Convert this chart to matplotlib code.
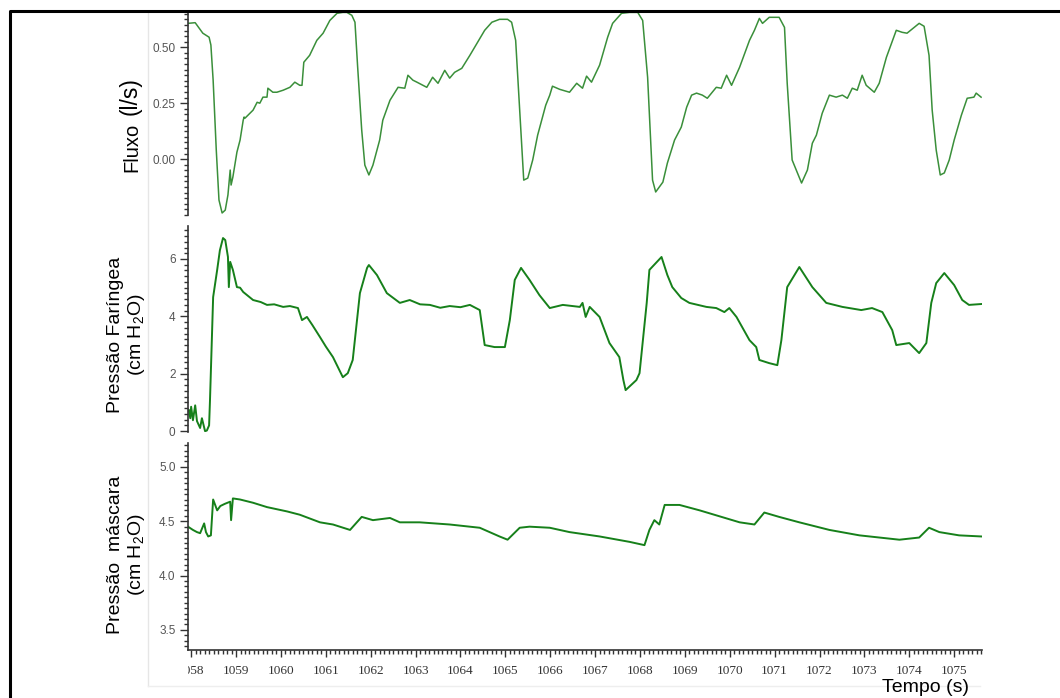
import matplotlib
matplotlib.use('Agg')
import matplotlib.pyplot as plt
from matplotlib.ticker import MultipleLocator, FixedLocator, FormatStrFormatter
from matplotlib.lines import Line2D
from matplotlib.transforms import Bbox, TransformedBbox

# flow trace (l/s)
flow_t = [1057.93, 1058.09, 1058.26, 1058.40, 1058.44, 1058.49, 1058.56, 1058.62, 1058.69, 1058.76,
          1058.82, 1058.87, 1058.89, 1058.93, 1059.02, 1059.09, 1059.16, 1059.18, 1059.20, 1059.38,
          1059.47, 1059.53, 1059.60, 1059.69, 1059.71, 1059.82, 1059.91, 1060.05, 1060.20, 1060.31,
          1060.42, 1060.47, 1060.51, 1060.64, 1060.80, 1060.94, 1061.09, 1061.25, 1061.38, 1061.47,
          1061.58, 1061.65, 1061.71, 1061.80, 1061.87, 1061.96, 1062.05, 1062.14, 1062.20, 1062.27,
          1062.43, 1062.61, 1062.76, 1062.83, 1062.94, 1063.03, 1063.25, 1063.38, 1063.50, 1063.65,
          1063.76, 1063.87, 1064.03, 1064.21, 1064.38, 1064.54, 1064.70, 1064.87, 1065.05, 1065.14,
          1065.23, 1065.32, 1065.41, 1065.50, 1065.61, 1065.72, 1065.81, 1065.90, 1065.99, 1066.05,
          1066.21, 1066.43, 1066.59, 1066.72, 1066.81, 1066.92, 1067.10, 1067.28, 1067.39, 1067.59,
          1067.77, 1067.95, 1068.06, 1068.17, 1068.28, 1068.35, 1068.51, 1068.61, 1068.77, 1068.92,
          1069.04, 1069.15, 1069.26, 1069.39, 1069.50, 1069.70, 1069.81, 1069.93, 1070.04, 1070.22,
          1070.44, 1070.55, 1070.66, 1070.73, 1070.88, 1071.10, 1071.22, 1071.28, 1071.39, 1071.60,
          1071.73, 1071.84, 1071.93, 1072.06, 1072.22, 1072.37, 1072.51, 1072.62, 1072.73, 1072.84,
          1072.95, 1073.04, 1073.22, 1073.33, 1073.49, 1073.71, 1073.84, 1073.95, 1074.22, 1074.33,
          1074.44, 1074.51, 1074.60, 1074.69, 1074.78, 1074.89, 1075.00, 1075.16, 1075.29, 1075.44,
          1075.49, 1075.60]
flow_v = [0.607, 0.61, 0.563, 0.545, 0.51, 0.353, 0.04, -0.183, -0.241, -0.228,
          -0.16, -0.049, -0.116, -0.080, 0.031, 0.085, 0.174, 0.188, 0.183, 0.219,
          0.254, 0.25, 0.277, 0.277, 0.317, 0.299, 0.299, 0.308, 0.321, 0.344,
          0.33, 0.33, 0.433, 0.464, 0.531, 0.563, 0.62, 0.652, 0.656, 0.656,
          0.643, 0.612, 0.411, 0.13, -0.027, -0.071, -0.027, 0.04, 0.085, 0.174,
          0.263, 0.321, 0.317, 0.375, 0.353, 0.344, 0.321, 0.366, 0.339, 0.397,
          0.362, 0.388, 0.406, 0.464, 0.522, 0.576, 0.612, 0.625, 0.625, 0.612,
          0.531, 0.219, -0.094, -0.085, -0.004, 0.107, 0.174, 0.241, 0.286, 0.326,
          0.312, 0.299, 0.339, 0.317, 0.371, 0.344, 0.42, 0.545, 0.607, 0.652,
          0.656, 0.656, 0.62, 0.366, -0.094, -0.147, -0.103, -0.018, 0.085, 0.143,
          0.232, 0.286, 0.295, 0.286, 0.272, 0.321, 0.317, 0.375, 0.33, 0.411,
          0.531, 0.576, 0.629, 0.607, 0.634, 0.634, 0.589, 0.339, -0.004, -0.107,
          -0.049, 0.071, 0.107, 0.205, 0.286, 0.277, 0.286, 0.272, 0.317, 0.308,
          0.375, 0.33, 0.299, 0.339, 0.455, 0.576, 0.567, 0.563, 0.607, 0.594,
          0.464, 0.219, 0.04, -0.071, -0.062, -0.004, 0.085, 0.196, 0.272, 0.277,
          0.295, 0.277]

# pharyngeal pressure (cm H2O)
phar_t = [1057.95, 1057.98, 1058.00, 1058.04, 1058.09, 1058.13, 1058.20, 1058.24, 1058.31, 1058.35,
          1058.40, 1058.42, 1058.49, 1058.58, 1058.64, 1058.71, 1058.76, 1058.82, 1058.84, 1058.87,
          1058.93, 1059.02, 1059.09, 1059.16, 1059.38, 1059.55, 1059.69, 1059.85, 1060.05, 1060.20,
          1060.38, 1060.47, 1060.58, 1060.70, 1060.87, 1061.00, 1061.16, 1061.38, 1061.49, 1061.60,
          1061.76, 1061.92, 1061.96, 1062.14, 1062.36, 1062.65, 1062.87, 1063.10, 1063.32, 1063.55,
          1063.76, 1064.00, 1064.21, 1064.43, 1064.54, 1064.76, 1064.99, 1065.10, 1065.21, 1065.35,
          1065.54, 1065.76, 1065.99, 1066.28, 1066.66, 1066.72, 1066.79, 1066.88, 1067.10, 1067.32,
          1067.54, 1067.63, 1067.68, 1067.92, 1067.99, 1068.15, 1068.21, 1068.48, 1068.61, 1068.72,
          1068.92, 1069.10, 1069.48, 1069.70, 1069.88, 1069.99, 1070.15, 1070.44, 1070.59, 1070.66,
          1070.88, 1071.06, 1071.15, 1071.28, 1071.55, 1071.84, 1072.15, 1072.51, 1072.93, 1073.17,
          1073.40, 1073.62, 1073.71, 1074.00, 1074.22, 1074.38, 1074.49, 1074.60, 1074.78, 1075.00,
          1075.18, 1075.33, 1075.60]
phar_v = [0.73, 0.45, 0.85, 0.38, 0.9, 0.35, 0.11, 0.45, 0.0, 0.02,
          0.2, 1.08, 4.67, 5.62, 6.3, 6.73, 6.66, 6.07, 5.02, 5.9,
          5.62, 5.02, 5.0, 4.85, 4.57, 4.50, 4.40, 4.42, 4.33, 4.36,
          4.29, 3.87, 3.98, 3.70, 3.28, 2.95, 2.58, 1.88, 2.02, 2.48,
          4.81, 5.69, 5.79, 5.44, 4.81, 4.47, 4.57, 4.42, 4.40, 4.30,
          4.36, 4.32, 4.40, 4.22, 3.0, 2.93, 2.93, 3.87, 5.27, 5.69,
          5.27, 4.74, 4.29, 4.40, 4.33, 4.47, 3.98, 4.33, 3.98, 3.07,
          2.58, 1.78, 1.43, 1.78, 2.02, 4.47, 5.62, 6.07, 5.44, 5.02,
          4.64, 4.47, 4.33, 4.29, 4.15, 4.29, 3.98, 3.17, 2.93, 2.48,
          2.37, 2.30, 3.17, 5.02, 5.72, 5.02, 4.47, 4.33, 4.22, 4.29,
          4.15, 3.52, 3.0, 3.07, 2.72, 3.07, 4.47, 5.16, 5.51, 5.09,
          4.57, 4.40, 4.43]

# mask pressure (cm H2O)
mask_t = [1057.93, 1058.04, 1058.13, 1058.20, 1058.29, 1058.33, 1058.38, 1058.44, 1058.49, 1058.58,
          1058.65, 1058.75, 1058.87, 1058.89, 1058.93, 1059.09, 1059.38, 1059.69, 1060.14, 1060.42,
          1060.87, 1061.16, 1061.54, 1061.80, 1062.05, 1062.43, 1062.65, 1063.09, 1063.76, 1064.43,
          1064.87, 1065.05, 1065.32, 1065.54, 1065.99, 1066.43, 1067.10, 1067.77, 1068.10, 1068.21,
          1068.32, 1068.43, 1068.55, 1068.88, 1069.33, 1070.22, 1070.55, 1070.77, 1071.10, 1071.55,
          1072.22, 1072.89, 1073.78, 1074.22, 1074.44, 1074.67, 1075.11, 1075.60]
mask_v = [4.45, 4.42, 4.40, 4.39, 4.48, 4.40, 4.36, 4.37, 4.70, 4.60,
          4.64, 4.66, 4.68, 4.51, 4.71, 4.70, 4.67, 4.63, 4.59, 4.56,
          4.49, 4.47, 4.42, 4.54, 4.51, 4.53, 4.49, 4.49, 4.47, 4.44,
          4.36, 4.33, 4.44, 4.45, 4.44, 4.40, 4.36, 4.31, 4.28, 4.42,
          4.51, 4.47, 4.65, 4.65, 4.60, 4.49, 4.47, 4.58, 4.54, 4.49,
          4.42, 4.37, 4.33, 4.35, 4.44, 4.40, 4.37, 4.36]

flow_ticks = [0.0, 0.25, 0.5]
phar_ticks = [0, 2, 4, 6]
mask_ticks = [3.5, 4.0, 4.5, 5.0]

plt.rcParams['font.family'] = ['Liberation Sans', 'DejaVu Sans']
plt.rcParams['mathtext.fontset'] = 'custom'
plt.rcParams['mathtext.rm'] = 'Liberation Sans'
plt.rcParams['mathtext.it'] = 'Liberation Sans:italic'

W, H = 1060, 698
fig = plt.figure(figsize=(W / 100, H / 100), dpi=100)


def box(top, bottom):
    return [188 / W, 1 - bottom / H, (982 - 188) / W, (bottom - top) / H]


ax1 = fig.add_axes(box(11.5, 215))
ax2 = fig.add_axes(box(226, 432), sharex=ax1)
ax3 = fig.add_axes(box(443, 650), sharex=ax1)

ax1.plot(flow_t, flow_v, color='#3a8f3a', lw=1.1)
ax2.plot(phar_t, phar_v, color='#16801a', lw=1.4)
ax3.plot(mask_t, mask_v, color='#16801a', lw=1.4)

ax1.set_ylim(-0.25, 0.66)
ax2.set_ylim(-0.03, 7.15)
ax3.set_ylim(3.315, 5.22)
ax1.set_xlim(1057.93, 1075.62)

ax1.yaxis.set_major_locator(FixedLocator(flow_ticks))
ax1.yaxis.set_minor_locator(MultipleLocator(0.025))
ax1.yaxis.set_major_formatter(FormatStrFormatter('%.2f'))
ax2.yaxis.set_major_locator(FixedLocator(phar_ticks))
ax2.yaxis.set_minor_locator(MultipleLocator(0.2))
ax2.yaxis.set_major_formatter(FormatStrFormatter('%d'))
ax3.yaxis.set_major_locator(FixedLocator(mask_ticks))
ax3.yaxis.set_minor_locator(MultipleLocator(0.05))
ax3.yaxis.set_major_formatter(FormatStrFormatter('%.1f'))

ax3.xaxis.set_major_locator(MultipleLocator(1))
ax3.xaxis.set_minor_locator(MultipleLocator(0.1))
ax3.xaxis.set_major_formatter(FormatStrFormatter('%d'))

for ax in [ax1, ax2, ax3]:
    ax.spines['top'].set_visible(False)
    ax.spines['right'].set_visible(False)
    ax.spines['left'].set_color('#333333')
    ax.spines['left'].set_linewidth(1.2)
    ax.tick_params(axis='y', which='major', direction='out', length=6, width=1,
                   color='#333333', labelcolor='#555555', labelsize=8.5, pad=3)
    ax.tick_params(axis='y', which='minor', direction='out', length=3, width=1, color='#333333')
    ax.patch.set_alpha(0)

for ax in [ax1, ax2]:
    ax.spines['bottom'].set_visible(False)
    ax.tick_params(axis='x', which='both', bottom=False, labelbottom=False)

ax3.spines['bottom'].set_color('#333333')
ax3.spines['bottom'].set_linewidth(1.2)
ax3.tick_params(axis='x', which='major', direction='out', length=5, width=1,
                color='#333333', labelcolor='#333333', labelsize=9.5, pad=6)
ax3.tick_params(axis='x', which='minor', direction='out', length=3, width=1, color='#333333')
for lbl in ax3.get_xticklabels():
    lbl.set_fontfamily('Liberation Serif')

# axis titles
fig.text(137 / W, 1 - 147 / H, 'Fluxo', rotation=90, rotation_mode='anchor',
         ha='center', va='baseline', fontsize=14.5)
fig.text(137 / W, 1 - 96 / H, '(l/s)', rotation=90, rotation_mode='anchor',
         ha='center', va='baseline', fontsize=16.5)
fig.text(127 / W, 1 - 335 / H, 'Pressão Faríngea\n(cm H$_2$O)', rotation=90, ha='center',
         va='center', fontsize=14, multialignment='center', linespacing=1.1)
fig.text(127 / W, 1 - 555 / H, 'Pressão  máscara\n(cm H$_2$O)', rotation=90, ha='center',
         va='center', fontsize=14, multialignment='center', linespacing=1.1)
fig.text(925 / W, 1 - 688 / H, 'Tempo (s)', ha='center', va='center', fontsize=14)

# frame and faint panel borders
fig.add_artist(Line2D([148 / W, 148 / W], [1 - 11 / H, 1 - 686 / H], transform=fig.transFigure,
                      color='#e6e6e6', lw=1))
fig.add_artist(Line2D([148 / W, 980 / W], [1 - 686 / H, 1 - 686 / H], transform=fig.transFigure,
                      color='#eeeeee', lw=1))
fig.add_artist(Line2D([9.5 / W, 9.5 / W, 1], [0, 1 - 11 / H, 1 - 11 / H], transform=fig.transFigure,
                      color='black', lw=2.2))

# first time label is cut at the axis edge, as in the original
fig.canvas.draw()
clip = TransformedBbox(Bbox([[188 / W, 0], [1, 1]]), fig.transFigure)
for lbl in ax3.get_xticklabels():
    lbl.set_clip_box(clip)
    lbl.set_clip_on(True)

fig.savefig('out.png', dpi=100)
